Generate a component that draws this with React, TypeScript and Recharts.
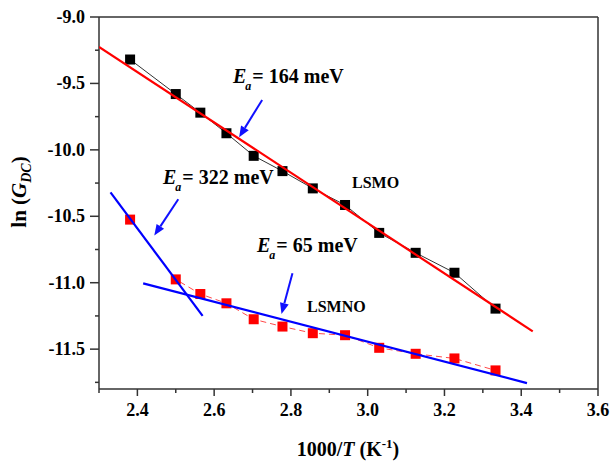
import React from 'react';
import { ComposedChart, Scatter, XAxis, YAxis, ReferenceLine } from 'recharts';

// 1000/T (K^-1) for 420 K down to 300 K
const invT = [2.381, 2.5, 2.564, 2.632, 2.703, 2.778, 2.857, 2.941, 3.03, 3.125, 3.226, 3.333];
const lnG_LSMO = [-9.32, -9.58, -9.72, -9.875, -10.045, -10.16, -10.29, -10.415, -10.625, -10.775, -10.925, -11.195];
const lnG_LSMNO = [-10.525, -10.975, -11.085, -11.155, -11.275, -11.33, -11.38, -11.395, -11.49, -11.535, -11.57, -11.66];

// Arrhenius fits (end points)
const fit164X = [2.3, 3.43];
const fit164Y = [-9.225, -11.366];
const fit322X = [2.33, 2.57];
const fit322Y = [-10.32, -11.25];
const fit65X = [2.415, 3.415];
const fit65Y = [-11.005, -11.756];

const xTicks = [2.3, 2.4, 2.5, 2.6, 2.7, 2.8, 2.9, 3.0, 3.1, 3.2, 3.3, 3.4, 3.5, 3.6];
const yTicks = [-9, -9.25, -9.5, -9.75, -10, -10.25, -10.5, -10.75, -11, -11.25, -11.5, -11.75];

const zip = (xs: number[], ys: number[]) => xs.map((x, i) => ({ x, y: ys[i] }));

const lsmo = zip(invT, lnG_LSMO);
const lsmno = zip(invT, lnG_LSMNO);
const fit164 = zip(fit164X, fit164Y);
const fit322 = zip(fit322X, fit322Y);
const fit65 = zip(fit65X, fit65Y);

const W = 613;
const H = 465;
const LEFT = 99;
const RIGHT = 598;
const TOP = 17;
const BOTTOM = 389;
const X_DOMAIN: [number, number] = [2.3, 3.6];
const Y_DOMAIN: [number, number] = [-11.8, -9.0];

const SERIF = '"Liberation Serif", "Times New Roman", serif';
const AXIS = '#333';

const px = (x: number) => LEFT + ((x - X_DOMAIN[0]) / (X_DOMAIN[1] - X_DOMAIN[0])) * (RIGHT - LEFT);
const py = (y: number) => TOP + ((Y_DOMAIN[1] - y) / (Y_DOMAIN[1] - Y_DOMAIN[0])) * (BOTTOM - TOP);

function XTick({ x, y, payload }: any) {
  const v = payload.value as number;
  const major = Math.round(v * 10) % 2 === 0;
  return (
    <g>
      <line x1={x} x2={x} y1={y} y2={y + (major ? 7 : 4)} stroke={AXIS} strokeWidth={1.5} />
      {major && (
        <text x={x} y={y + 27} textAnchor="middle" fontSize={18} fontWeight="bold" fontFamily={SERIF} fill="#000">
          {v.toFixed(1)}
        </text>
      )}
    </g>
  );
}

function YTick({ x, y, payload }: any) {
  const v = payload.value as number;
  const major = Math.round(v * 4) % 2 === 0;
  return (
    <g>
      <line x1={x - (major ? 9 : 4)} x2={x} y1={y} y2={y} stroke={AXIS} strokeWidth={1.5} />
      {major && (
        <text x={x - 14} y={y + 6} textAnchor="end" fontSize={18} fontWeight="bold" fontFamily={SERIF} fill="#000">
          {v.toFixed(1)}
        </text>
      )}
    </g>
  );
}

const square = (fill: string) => (props: any) => (
  <rect x={props.cx - 5} y={props.cy - 5} width={10} height={10} fill={fill} />
);
const noShape = () => <g />;

// arrows: tail -> head, in data coordinates
const arrows = [
  { from: [2.725, -9.625], to: [2.665, -9.905] },
  { from: [2.5065, -10.372], to: [2.444, -10.645] },
  { from: [2.804, -10.929], to: [2.7755, -11.235] },
];

function Arrow({ from, to }: { from: number[]; to: number[] }) {
  const x1 = px(from[0]);
  const y1 = py(from[1]);
  const x2 = px(to[0]);
  const y2 = py(to[1]);
  const a = Math.atan2(y2 - y1, x2 - x1);
  const len = 11;
  const half = 4.5;
  const bx = x2 - len * Math.cos(a);
  const by = y2 - len * Math.sin(a);
  const nx = -Math.sin(a) * half;
  const ny = Math.cos(a) * half;
  return (
    <g>
      <line x1={x1} y1={y1} x2={bx} y2={by} stroke="#1010ff" strokeWidth={2} />
      <polygon points={`${x2},${y2} ${bx + nx},${by + ny} ${bx - nx},${by - ny}`} fill="#1010ff" />
    </g>
  );
}

function EaLabel({ x, y, text }: { x: number; y: number; text: string }) {
  return (
    <text x={x} y={y} fontSize={20} fontWeight="bold" fontFamily={SERIF} fill="#000">
      <tspan fontStyle="italic">E</tspan>
      <tspan fontStyle="italic" fontSize={12} dy={7} dx={-1}>a</tspan>
      <tspan dy={-7} dx={1}>{text}</tspan>
    </text>
  );
}

export default function App() {
  return (
    <div style={{ position: 'absolute', left: 0, top: 0, width: W, height: H, background: '#fff' }}>
      <ComposedChart width={W} height={H} margin={{ top: TOP, right: W - RIGHT, bottom: 0, left: 0 }}>
        <XAxis
          dataKey="x"
          type="number"
          domain={X_DOMAIN}
          ticks={xTicks}
          interval={0}
          allowDataOverflow
          height={H - BOTTOM}
          tickSize={0}
          tickMargin={0}
          tick={<XTick />}
          axisLine={{ stroke: AXIS, strokeWidth: 1.5 }}
        />
        <YAxis
          dataKey="y"
          type="number"
          domain={Y_DOMAIN}
          ticks={yTicks}
          interval={0}
          allowDataOverflow
          width={LEFT}
          tickSize={0}
          tickMargin={0}
          tick={<YTick />}
          axisLine={{ stroke: AXIS, strokeWidth: 1.5 }}
        />
        <ReferenceLine y={-9.0} stroke={AXIS} strokeWidth={1.5} />
        <ReferenceLine x={3.6} stroke={AXIS} strokeWidth={1.5} />

        <Scatter
          data={lsmo}
          line={{ stroke: '#333', strokeWidth: 1 }}
          shape={square('#000')}
          isAnimationActive={false}
        />
        <Scatter
          data={lsmno}
          line={{ stroke: '#ff4a4a', strokeWidth: 1, strokeDasharray: '6 4' }}
          shape={square('#ff0000')}
          isAnimationActive={false}
        />
        <Scatter data={fit164} line={{ stroke: '#ff0000', strokeWidth: 2.2 }} shape={noShape} isAnimationActive={false} />
        <Scatter data={fit322} line={{ stroke: '#0000ff', strokeWidth: 2.2 }} shape={noShape} isAnimationActive={false} />
        <Scatter data={fit65} line={{ stroke: '#0000ff', strokeWidth: 2.2 }} shape={noShape} isAnimationActive={false} />
      </ComposedChart>

      <svg width={W} height={H} style={{ position: 'absolute', left: 0, top: 0, pointerEvents: 'none' }}>
        {arrows.map((a, i) => (
          <Arrow key={i} from={a.from} to={a.to} />
        ))}
        <EaLabel x={233} y={83} text="= 164 meV" />
        <EaLabel x={163} y={184} text="= 322 meV" />
        <EaLabel x={257} y={252} text="= 65 meV" />
        <text x={352} y={188} fontSize={16} fontWeight="bold" fontFamily={SERIF} fill="#000">LSMO</text>
        <text x={307} y={312} fontSize={16} fontWeight="bold" fontFamily={SERIF} fill="#000">LSMNO</text>

        <text
          transform="translate(26, 192) rotate(-90)"
          textAnchor="middle"
          fontSize={21}
          fontWeight="bold"
          fontFamily={SERIF}
          fill="#000"
        >
          <tspan>ln (</tspan>
          <tspan fontStyle="italic">G</tspan>
          <tspan fontStyle="italic" fontSize={14} dy={5}>DC</tspan>
          <tspan dy={-5}>)</tspan>
        </text>

        <text x={348} y={456} textAnchor="middle" fontSize={20} fontWeight="bold" fontFamily={SERIF} fill="#000">
          <tspan>1000/</tspan>
          <tspan fontStyle="italic">T</tspan>
          <tspan> (K</tspan>
          <tspan fontSize={13} dy={-8}>-1</tspan>
          <tspan dy={8}>)</tspan>
        </text>
      </svg>
    </div>
  );
}
